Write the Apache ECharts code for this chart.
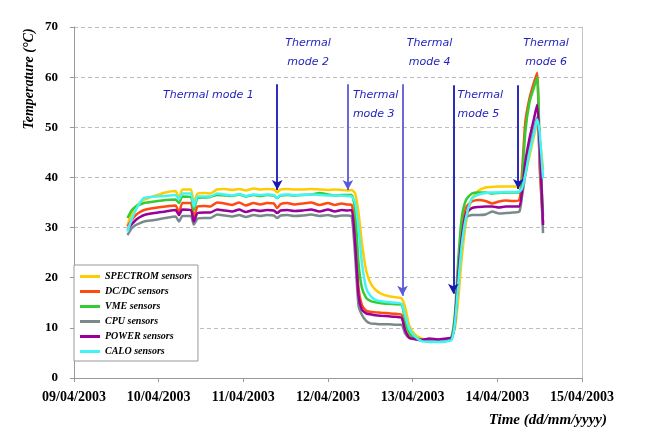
<!DOCTYPE html>
<html>
<head>
<meta charset="utf-8">
<script src="https://cdn.jsdelivr.net/npm/echarts@6/dist/echarts.min.js"></script>
<style>html,body{margin:0;padding:0;background:#fff}#main{width:654px;height:427px}</style>
</head>
<body>
<div id="main"></div>
<script>
// Tick labels (days since 09/04/2003 00:00)
const dateLabels = ['09/04/2003','10/04/2003','11/04/2003','12/04/2003','13/04/2003','14/04/2003','15/04/2003'];
const seriesNames = ['SPECTROM sensors','DC/DC sensors','VME sensors','CPU sensors','POWER sensors','CALO sensors'];

// Time in days since 09/04/2003 00:00
const timeDays = [0.632,0.68,0.73,0.78,0.83,0.95,1.08,1.2,1.24,1.28,
 1.38,1.415,1.46,1.54,1.61,1.69,1.78,1.87,1.95,2.03,
 2.12,2.2,2.28,2.36,2.4,2.44,2.52,2.6,2.7,2.8,
 2.9,3.0,3.08,3.16,3.23,3.28,3.32,3.36,3.4,3.45,
 3.5,3.56,3.63,3.72,3.8,3.87,3.91,3.96,4.02,4.1,
 4.2,4.3,4.4,4.46,4.5,4.54,4.58,4.63,4.7,4.78,
 4.86,4.94,5.02,5.1,5.18,5.26,5.29,5.33,5.38,5.43,
 5.47,5.5,5.54];

const spectrom = [30.5,32.8,34.2,35.0,35.6,36.3,37.0,37.3,35.8,37.6,
 37.6,34.9,36.8,36.9,36.8,37.6,37.7,37.5,37.7,37.4,
 37.8,37.6,37.7,37.6,37.0,37.6,37.7,37.6,37.6,37.7,
 37.6,37.5,37.6,37.5,37.4,37.5,36.8,33.0,27.0,21.5,
 19.0,17.6,16.8,16.3,16.1,15.9,14.2,10.5,8.8,7.9,
 7.6,7.6,7.7,8.2,10.0,16.0,24.0,31.0,35.8,37.4,
 38.0,38.1,38.2,38.2,38.2,38.2,38.3,40.5,44.3,48.0,
 50.8,48.0,41.5];

const dcdc = [30.2,31.5,32.5,33.1,33.5,33.9,34.2,34.4,32.9,34.9,
 34.9,31.9,34.2,34.3,34.2,35.0,34.8,34.5,35.0,34.4,
 34.9,34.6,34.9,34.8,33.9,34.7,34.9,34.6,34.8,35.0,
 34.5,34.9,34.5,34.8,34.6,34.5,29.5,18.0,14.6,13.4,
 13.2,13.1,13.0,12.9,12.8,12.6,9.6,8.2,7.8,7.6,
 7.5,7.6,7.7,8.0,12.0,22.0,29.0,34.0,35.2,35.5,
 35.3,34.8,35.2,35.4,35.3,35.5,40.5,51.0,55.8,58.8,
 60.9,42.0,31.0];

const vme = [31.9,33.4,34.2,34.6,34.9,35.2,35.5,35.6,34.9,36.2,
 36.1,33.5,35.9,36.0,36.1,36.5,36.4,36.3,36.6,36.2,
 36.5,36.3,36.5,36.4,35.9,36.4,36.5,36.4,36.5,36.6,
 36.9,36.6,36.4,36.5,36.5,36.5,33.5,23.0,18.0,16.0,
 15.4,15.1,14.9,14.8,14.7,14.6,11.5,9.0,8.0,7.7,
 7.6,7.5,7.6,8.3,13.0,24.0,32.0,35.5,36.8,37.0,
 37.0,36.8,36.9,37.0,37.0,37.0,39.0,49.0,55.0,57.8,
 60.0,47.0,32.2];

const cpu = [28.5,29.8,30.5,30.9,31.2,31.5,31.9,32.2,31.2,32.3,
 32.3,30.6,31.8,31.9,31.9,32.6,32.4,32.2,32.5,32.1,
 32.5,32.3,32.5,32.4,31.9,32.4,32.5,32.3,32.4,32.6,
 32.3,32.5,32.2,32.4,32.4,32.2,24.5,14.5,12.6,11.4,
 10.9,10.8,10.7,10.7,10.6,10.6,8.9,8.0,7.7,7.5,
 7.4,7.5,7.6,8.0,11.0,20.0,27.0,32.0,32.5,32.5,
 32.6,33.2,32.8,32.9,33.0,33.2,36.0,40.5,45.8,49.5,
 52.0,44.0,28.9];

const power = [29.5,30.6,31.5,32.1,32.5,32.9,33.2,33.5,32.5,33.6,
 33.5,31.2,32.9,33.0,33.0,33.6,33.4,33.2,33.6,33.1,
 33.5,33.3,33.5,33.4,32.9,33.4,33.5,33.3,33.4,33.6,
 33.2,33.6,33.2,33.5,33.4,33.5,26.9,16.5,13.6,12.9,
 12.7,12.5,12.4,12.3,12.2,12.0,9.6,8.0,7.8,7.6,
 7.9,7.7,7.9,8.0,11.5,21.0,28.0,32.8,33.9,34.1,
 34.2,34.2,34.0,34.2,34.2,34.2,37.0,43.0,47.8,51.5,
 54.5,47.0,30.5];

const calo = [29.2,31.6,33.5,35.0,35.9,36.2,36.3,36.5,35.6,36.8,
 36.8,34.2,36.2,36.2,36.2,36.8,36.6,36.4,36.7,36.3,
 36.6,36.5,36.6,36.5,35.9,36.5,36.6,36.5,36.5,36.6,
 36.5,36.4,36.4,36.4,36.3,36.2,35.0,30.0,23.0,18.0,
 16.4,15.6,15.3,15.1,15.0,14.8,12.5,9.8,8.4,7.4,
 7.2,7.2,7.3,7.6,11.0,19.0,26.5,32.0,35.8,36.6,
 36.9,37.0,37.0,37.1,37.1,37.2,37.8,40.5,45.0,48.6,
 51.6,49.0,39.8];

// Thermal mode annotations (data coordinates)
const modeArrowX    = [2.4, 3.235, 3.88, 4.48, 5.247];
const modeArrowTop  = [58.6, 58.6, 58.6, 58.4, 58.4];
const modeArrowTip  = [37.5, 37.5, 16.4, 16.8, 37.7];
const modeLabels = ['Thermal mode 1','Thermal\nmode 2','Thermal\nmode 3','Thermal\nmode 4','Thermal\nmode 5','Thermal\nmode 6'];
const modeLabelX = [1.588, 2.765, 3.294, 4.2, 4.53, 5.576];
const modeLabelY = [56.4, 64.9, 54.5, 64.9, 54.5, 64.9];

const valueSets = [spectrom, dcdc, vme, cpu, power, calo];
const colors = ['#FFCC00','#FF4A12','#33CC33','#7A8A8A','#990099','#44F4F4'];
const arrowColors = ['#1818B4','#5A5AD8','#5A5AD8','#1818B4','#1818B4'];
const labelAlign = ['center','center','left','center','left','center'];

const chart = echarts.init(document.getElementById('main'));
const serif = '"Liberation Serif", "Times New Roman", serif';

const lineSeries = seriesNames.map((name, i) => ({
  name: name,
  type: 'line',
  showSymbol: false,
  smooth: 0.2,
  color: colors[i],
  lineStyle: { width: 2.5, color: colors[i] },
  data: timeDays.map((t, k) => [t, valueSets[i][k]])
}));

const annot = {
  type: 'line',
  name: 'annot',
  data: [],
  silent: true,
  z: 5,
  markLine: {
    silent: true,
    symbol: ['none', 'arrow'],
    symbolSize: [8, 10],
    label: { show: false },
    animation: false,
    data: modeArrowX.map((x, i) => [
      { coord: [x, modeArrowTop[i]], lineStyle: { color: arrowColors[i], width: 1.8, type: 'solid' }, itemStyle: { color: '#10109A' } },
      { coord: [x, modeArrowTip[i]] }
    ])
  },
  markPoint: {
    silent: true,
    symbol: 'circle',
    symbolSize: 0,
    animation: false,
    data: modeLabels.map((txt, i) => ({
      coord: [modeLabelX[i], modeLabelY[i]],
      label: {
        show: true,
        position: 'inside',
        formatter: txt,
        align: labelAlign[i],
        verticalAlign: 'middle',
        color: '#2323BE',
        fontStyle: 'italic',
        fontFamily: '"DejaVu Sans", sans-serif',
        fontSize: 11,
        lineHeight: 19
      }
    }))
  }
};

const option = {
  animation: false,
  backgroundColor: '#ffffff',
  grid: { left: 74, right: 72, top: 27, bottom: 49 },
  legend: {
    data: seriesNames,
    orient: 'vertical',
    left: 74,
    top: 265,
    backgroundColor: '#ffffff',
    borderColor: '#999999',
    borderWidth: 1,
    borderRadius: 0,
    padding: [4, 6, 2, 6],
    itemGap: 0,
    itemWidth: 20,
    itemHeight: 3,
    icon: 'rect',
    textStyle: { fontFamily: serif, fontStyle: 'italic', fontWeight: 'bold', fontSize: 10, lineHeight: 15, color: '#000' }
  },
  xAxis: {
    type: 'value', min: 0, max: 6, interval: 1,
    axisLine: { lineStyle: { color: '#999' } },
    axisTick: { show: true, length: 4, lineStyle: { color: '#999' } },
    axisLabel: { formatter: v => dateLabels[Math.round(v)], color: '#000', fontFamily: serif, fontWeight: 'bold', fontSize: 14, margin: 12 },
    splitLine: { show: false }
  },
  yAxis: [{
    type: 'value', min: 0, max: 70, interval: 10,
    axisLine: { show: true, lineStyle: { color: '#999' } },
    axisTick: { show: true, length: 4, lineStyle: { color: '#999' } },
    axisLabel: { color: '#000', fontFamily: serif, fontWeight: 'bold', fontSize: 13, margin: 16 },
    splitLine: { show: true, lineStyle: { type: [4, 3], color: '#bdbdbd', width: 1 } }
  }, {
    type: 'value', min: 0, max: 70, position: 'right',
    axisLine: { show: true, lineStyle: { color: '#c4c4c4' } },
    axisTick: { show: false }, axisLabel: { show: false }, splitLine: { show: false }
  }],
  graphic: [
    { type: 'text', x: 29, y: 79, rotation: Math.PI / 2,
      style: { text: 'Temperature (°C)', align: 'center', verticalAlign: 'middle', fill: '#000',
               font: 'italic bold 14px "Liberation Serif", serif' } },
    { type: 'text', x: 607, y: 420,
      style: { text: 'Time (dd/mm/yyyy)', align: 'right', verticalAlign: 'middle', fill: '#000',
               font: 'italic bold 15px "Liberation Serif", serif' } }
  ],
  series: lineSeries.concat([annot])
};
chart.setOption(option);
</script>
</body>
</html>
